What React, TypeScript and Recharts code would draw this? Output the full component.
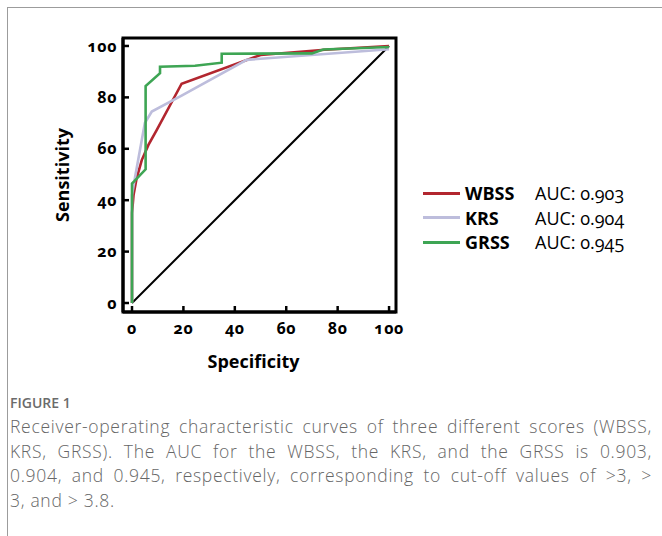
import React from 'react';
import { LineChart, Line, XAxis, YAxis, ReferenceArea, Label } from 'recharts';

// ROC points: specificity axis (x) and sensitivity (y)
const wbssX = [0, 0, 0.6, 1.8, 3.8, 6.4, 9.6, 19.3, 50, 75, 100];
const wbssY = [0, 35, 42, 48.5, 55.6, 61.5, 67.3, 85.3, 96.5, 98.5, 100];

const krsX = [0, 0, 1.2, 5, 7.7, 19.3, 44.6, 100];
const krsY = [0, 42, 49, 70, 74.5, 80.7, 94.6, 98.7];

const grssX = [0, 0, 1, 5.3, 5.3, 10.9, 10.9, 24.5, 34.9, 34.9, 70, 74.4, 100];
const grssY = [0, 46.5, 47.5, 52, 84.4, 89.4, 91.9, 92.3, 93.5, 97, 97.1, 98.6, 99.6];

const refX = [0, 100];
const refY = [0, 100];

const axisTicks = [0, 20, 40, 60, 80, 100];

const seriesNames = ['WBSS', 'KRS', 'GRSS'];
const seriesAuc = ['0.903', '0.904', '0.945'];
const seriesColors = ['#b2262f', '#bdbddc', '#3ea554'];

const captionLines = [
  'Receiver-operating characteristic curves of three different scores (WBSS,',
  'KRS, GRSS). The AUC for the WBSS, the KRS, and the GRSS is 0.903,',
  '0.904, and 0.945, respectively, corresponding to cut-off values of >3, >',
  '3, and > 3.8.',
];

const toPoints = (xs: number[], ys: number[]) => xs.map((x, i) => ({ x, y: ys[i] }));

const series = [toPoints(wbssX, wbssY), toPoints(krsX, krsY), toPoints(grssX, grssY)];
const diagonal = toPoints(refX, refY);

const X_DOMAIN: [number, number] = [-3.5, 102.7];
const Y_DOMAIN: [number, number] = [-3.5, 103.1];

const tickStyle = { fill: '#000', fontSize: 16, fontWeight: 700, letterSpacing: 0.6 };

export default function App() {
  return (
    <div
      style={{
        position: 'absolute',
        left: 0,
        top: 0,
        width: 662,
        height: 536,
        background: '#fff',
        overflow: 'hidden',
        fontFamily: '"Open Sans", sans-serif',
        fontFeatureSettings: '"onum" 1',
      }}
    >
      <div
        style={{
          position: 'absolute',
          left: 7,
          top: 7,
          width: 700,
          height: 600,
          borderTop: '1px solid #9c9c9c',
          borderLeft: '1px solid #9c9c9c',
        }}
      />

      <div style={{ position: 'absolute', left: 0, top: 0 }}>
        <LineChart
          width={662}
          height={400}
          margin={{ top: 38, right: 266, bottom: 58, left: 63 }}
          style={{ fontFamily: '"Open Sans", sans-serif', fontFeatureSettings: '"onum" 1' }}
        >
          <XAxis
            dataKey="x"
            type="number"
            domain={X_DOMAIN}
            ticks={axisTicks}
            allowDataOverflow
            height={30}
            tickSize={-6}
            tickMargin={17}
            tick={tickStyle}
            tickLine={{ stroke: '#000', strokeWidth: 2.5 }}
            axisLine={{ stroke: '#000', strokeWidth: 3 }}
          >
            <Label
              value="Specificity"
              position="bottom"
              offset={13}
              dx={-6}
              style={{ fill: '#000', fontSize: 18, fontWeight: 700 }}
            />
          </XAxis>
          <YAxis
            type="number"
            domain={Y_DOMAIN}
            ticks={axisTicks}
            allowDataOverflow
            width={60}
            tickSize={-6}
            tickMargin={12}
            tick={tickStyle}
            tickLine={{ stroke: '#000', strokeWidth: 2.5 }}
            axisLine={{ stroke: '#000', strokeWidth: 3 }}
          >
            <Label
              value="Sensitivity"
              angle={-90}
              position="insideLeft"
              offset={0}
              style={{ fill: '#000', fontSize: 18, fontWeight: 700, textAnchor: 'middle' }}
            />
          </YAxis>
          <ReferenceArea
            x1={X_DOMAIN[0]}
            x2={X_DOMAIN[1]}
            y1={Y_DOMAIN[0]}
            y2={Y_DOMAIN[1]}
            fill="none"
            fillOpacity={0}
            stroke="#000"
            strokeWidth={3}
          />
          <Line
            data={diagonal}
            dataKey="y"
            stroke="#000"
            strokeWidth={2}
            dot={false}
            activeDot={false}
            isAnimationActive={false}
          />
          {series.map((pts, i) => (
            <Line
              key={seriesNames[i]}
              data={pts}
              dataKey="y"
              name={seriesNames[i]}
              type="linear"
              stroke={seriesColors[i]}
              strokeWidth={2.6}
              dot={false}
              activeDot={false}
              isAnimationActive={false}
            />
          ))}
        </LineChart>
      </div>

      <div style={{ position: 'absolute', left: 423, top: 181 }}>
        {seriesNames.map((name, i) => (
          <div key={name} style={{ display: 'flex', alignItems: 'center', height: 24.5 }}>
            <div style={{ width: 37, height: 3, background: seriesColors[i] }} />
            <div style={{ width: 70, paddingLeft: 5, fontSize: 18, fontWeight: 700, color: '#000' }}>
              {name}
            </div>
            <div style={{ fontSize: 18, color: '#000' }}>AUC: {seriesAuc[i]}</div>
          </div>
        ))}
      </div>

      <div
        style={{
          position: 'absolute',
          left: 10,
          top: 392,
          width: 642,
          color: '#666',
          fontFeatureSettings: 'normal',
        }}
      >
        <div style={{ fontSize: 14, fontWeight: 600, lineHeight: '22px', color: '#6b6b6b' }}>FIGURE 1</div>
        {captionLines.map((line, i) => (
          <div
            key={i}
            style={{
              fontSize: 17.5,
              fontWeight: 300,
              letterSpacing: 0.7,
              lineHeight: '24.6px',
              textAlign: 'justify',
              textAlignLast: i < captionLines.length - 1 ? 'justify' : 'left',
              whiteSpace: 'nowrap',
            }}
          >
            {line}
          </div>
        ))}
      </div>
    </div>
  );
}
